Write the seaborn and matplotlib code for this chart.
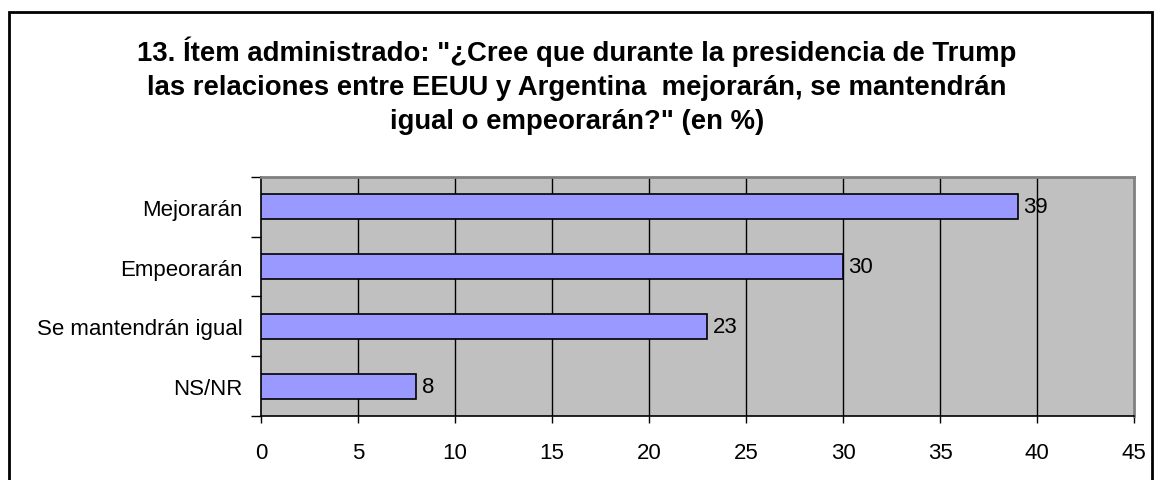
import matplotlib as mpl
import matplotlib.pyplot as plt
import seaborn as sns
import pandas as pd
from matplotlib.patches import Rectangle

categorias = ['Mejorarán', 'Empeorarán', 'Se mantendrán igual', 'NS/NR']
porcentajes = [39, 30, 23, 8]
x_ticks = [0, 5, 10, 15, 20, 25, 30, 35, 40, 45]
titulo = ('13. Ítem administrado: "¿Cree que durante la presidencia de Trump\n'
          'las relaciones entre EEUU y Argentina  mejorarán, se mantendrán\n'
          'igual o empeorarán?" (en %)')

df = pd.DataFrame({'categoria': categorias, 'valor': porcentajes})

sns.set_style('white')
plt.rcParams['font.family'] = ['Liberation Sans', 'DejaVu Sans']
plt.rcParams['text.color'] = 'black'
plt.rcParams['xtick.color'] = 'black'
plt.rcParams['ytick.color'] = 'black'

fig = plt.figure(figsize=(11.54, 4.81), dpi=100)
ax = fig.add_axes([0.2262, 0.1331, 0.7565, 0.4968])
ax.set_facecolor('#C0C0C0')

sns.barplot(data=df, x='valor', y='categoria', orient='h', color='#9999FF',
            saturation=1, edgecolor='black', linewidth=1.2, width=0.42, ax=ax,
            zorder=3)

ax.set_xlim(0, 45)
ax.set_ylim(3.5, -0.5)
ax.set_xticks(x_ticks)
ax.set_xticklabels([str(t) for t in x_ticks], fontsize=16)
ax.set_yticks([0, 1, 2, 3])
ax.set_yticklabels(categorias, fontsize=16)
ax.set_yticks([-0.5, 0.5, 1.5, 2.5, 3.5], minor=True)
ax.tick_params(axis='y', which='major', length=0, pad=13)
ax.tick_params(axis='y', which='minor', length=7, width=1, color='black', direction='out', left=True)
ax.tick_params(axis='x', length=5, width=1, color='black', direction='out', bottom=True, pad=14)
ax.set_xlabel('')
ax.set_ylabel('')

for v in x_ticks[1:-1]:
    ax.axvline(v, color='black', linewidth=1, zorder=2)

for side in ['left', 'bottom']:
    ax.spines[side].set_color('black')
    ax.spines[side].set_linewidth(1.2)
for side in ['top', 'right']:
    ax.spines[side].set_color('#808080')
    ax.spines[side].set_linewidth(2)

ax.bar_label(ax.containers[0], labels=[str(v) for v in porcentajes],
             padding=4, fontsize=16, zorder=4)

fig.text(0.500, 0.925, titulo, ha='center', va='top', fontsize=19.8,
         fontweight='bold', linespacing=1.4)

fig.add_artist(Rectangle((9 / 1154, -0.1), 1143 / 1154, 1.1 - 13 / 481,
                         transform=fig.transFigure, fill=False,
                         edgecolor='black', linewidth=2))

fig.savefig('out.png', dpi=100)
